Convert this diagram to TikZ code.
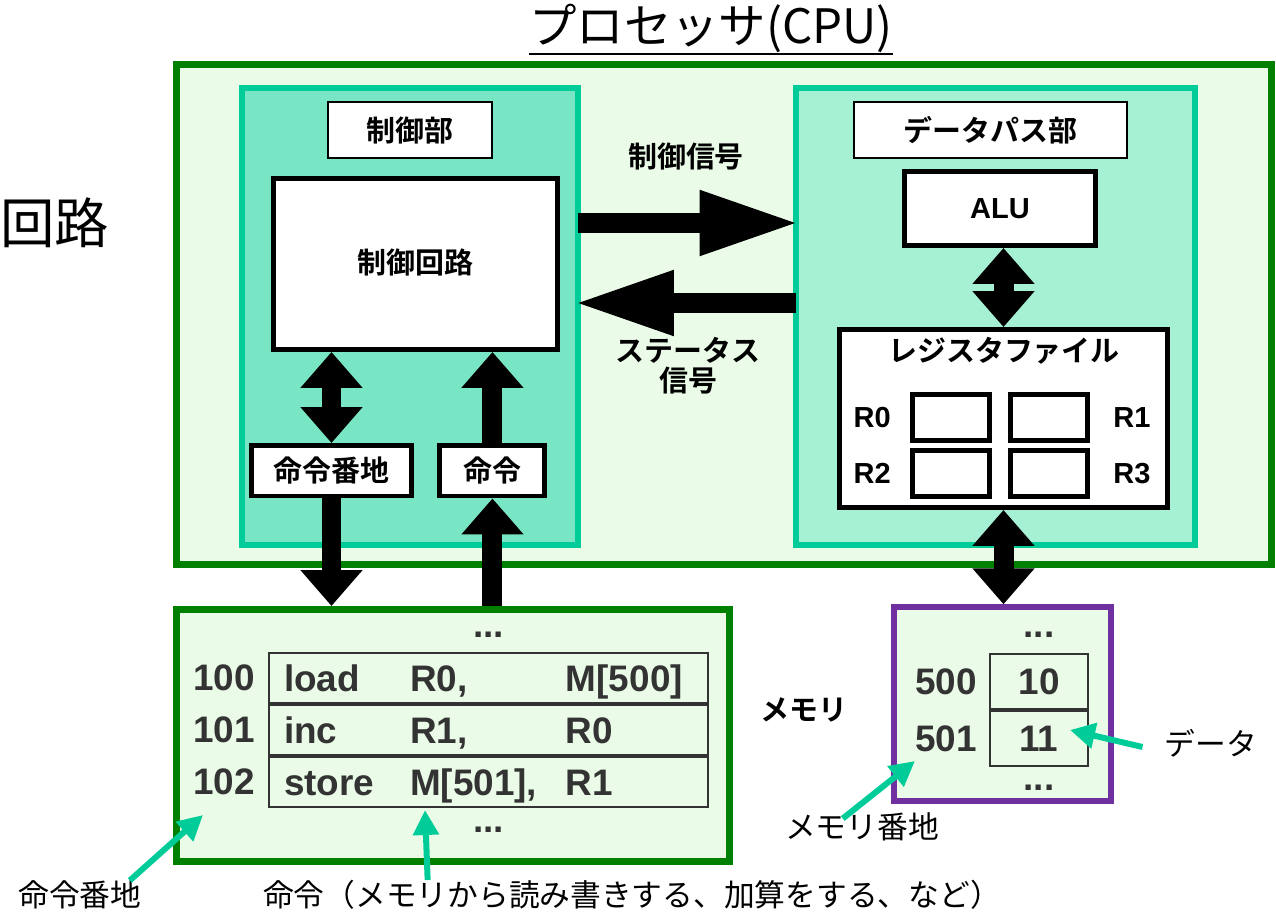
\documentclass[tikz,border=0pt]{standalone}
\usepackage{fontspec}
\setmainfont{Liberation Sans}
\newfontfamily\jp{Noto Sans CJK JP}[BoldFont={Noto Sans CJK JP Bold}]
\usepackage{tikz}
\usetikzlibrary{arrows.meta,positioning}
\usepackage{xcolor}

\definecolor{cpugreen}{RGB}{0,128,0}
\definecolor{cpubg}{RGB}{234,252,232}
\definecolor{ctrlfill}{RGB}{120,229,196}
\definecolor{dpfill}{RGB}{166,240,212}
\definecolor{unitteal}{RGB}{0,204,153}
\definecolor{mempurple}{RGB}{112,48,160}
\definecolor{tablegray}{RGB}{51,51,51}

\newcommand{\jpb}{\jp\bfseries\fontsize{16.5}{17}\selectfont}
\newcommand{\jpn}{\jp\fontsize{17.5}{18}\selectfont}
\newcommand{\latb}{\bfseries\fontsize{16.5}{18}\selectfont}
\newcommand{\codeb}{\bfseries\fontsize{21}{22}\selectfont}
\newcommand{\instr}[3]{\makebox[2.52cm][l]{#1}\makebox[3.12cm][l]{#2}#3}

\begin{document}
\begin{tikzpicture}[x=0.02cm, y=-0.02cm,
    cpubox/.style={draw=cpugreen, fill=cpubg, line width=0.14cm},
    unit/.style={draw=unitteal, line width=0.12cm},
    hdr/.style={draw, fill=white, line width=0.04cm, font=\jpb},
    blk/.style={draw, fill=white, line width=0.1cm},
    regcell/.style={blk, minimum width=1.54cm, minimum height=0.92cm},
    instrrow/.style={draw=tablegray, line width=0.04cm, text=tablegray, font=\codeb, inner xsep=0.3cm, inner ysep=0, text width=8.18cm, align=left, text height=15pt, text depth=0pt, minimum height=1.0cm},
    memcell/.style={draw=tablegray, line width=0.04cm, text=tablegray, font=\codeb, inner sep=0, minimum width=1.96cm, minimum height=1.1cm},
    num/.style={inner sep=0, text=tablegray, font=\codeb},
    note/.style={inner sep=0, font=\jpn},
    link/.style={line width=0.4cm, {Triangle[length=0.72cm,width=1.2cm]}-{Triangle[length=0.72cm,width=1.2cm]}},
    feed/.style={line width=0.4cm, -{Triangle[length=0.72cm,width=1.2cm]}},
    sig/.style={line width=0.4cm, -{Triangle[length=2cm,width=1.2cm]}, shorten <=-0.06cm, shorten >=-0.14cm},
    pointer/.style={draw=unitteal, line width=0.12cm, -{Triangle[length=0.5cm,width=0.5cm]}}]
    \useasboundingbox (0,0) rectangle (1276,913);

    % processor
    \node [cpubox, minimum width=21.92cm, minimum height=10.01cm] (cpu) at (724, 314.75) {};
    \node [inner sep=0, font=\jp\fontsize{27}{28}\selectfont] (title) at (711, 28) {プロセッサ(CPU)};
    \draw[line width=0.04cm] ([yshift=-1pt]title.south west) -- ([yshift=-1pt]title.south east);
    \node [font=\jp\fontsize{31}{32}\selectfont] (kairo) at (55, 223) {回路};

    % control unit
    \node [unit, fill=ctrlfill, minimum width=6.73cm, minimum height=9.15cm] (ctrlunit) at (409.75, 316.75) {};
    \node [hdr, minimum width=3.28cm, minimum height=1.12cm] (ctrlname) at (410, 130) {制御部};
    \node [blk, font=\jpb, minimum width=5.68cm, minimum height=3.42cm] (circ) at (415.5, 264) {\raisebox{0.1cm}{制御回路}};
    \node [blk, font=\jpb, minimum width=3.22cm, minimum height=1.01cm] (addrreg) at (331.5, 470.75) {命令番地};
    \node [blk, font=\jpb, minimum width=2.1cm, minimum height=1.01cm, right=0.46cm of addrreg] (instreg) {命令};

    % datapath
    \node [unit, fill=dpfill, minimum width=7.99cm, minimum height=9.16cm] (dpunit) at (995.25, 316.5) {};
    \node [hdr, minimum width=5.46cm, minimum height=1.12cm] (dpname) at (990.5, 130) {データパス部};
    \node [blk, font=\latb, minimum width=3.82cm, minimum height=1.48cm] (alu) at (1000, 208.5) {ALU};
    \node [blk, minimum width=6.56cm, minimum height=3.56cm] (regfile) at (1003.5, 418.5) {};
    \node [font=\jpb] (rftitle) at (1004, 351) {レジスタファイル};
    \node [regcell] (r0cell) at (951, 417.5) {};
    \node [regcell, right=0.32cm of r0cell] (r1cell) {};
    \node [regcell, below=0.1cm of r0cell] (r2cell) {};
    \node [regcell, below=0.1cm of r1cell] (r3cell) {};
    \node [inner sep=0, font=\latb, left=0.38cm of r0cell] (r0lbl) {R0};
    \node [inner sep=0, font=\latb, right=0.46cm of r1cell] (r1lbl) {R1};
    \node [inner sep=0, font=\latb, left=0.38cm of r2cell] (r2lbl) {R2};
    \node [inner sep=0, font=\latb, right=0.46cm of r3cell] (r3lbl) {R3};

    % signals between the units
    \coordinate (sigy) at (0, 223);
    \coordinate (staty) at (0, 303);
    \draw[sig] (ctrlunit.east |- sigy) -- (dpunit.west |- sigy);
    \draw[sig] (dpunit.west |- staty) -- (ctrlunit.east |- staty);
    \node [font=\jpb] (siglbl) at (686, 156) {制御信号};
    \node [font=\jpb, align=center] (statlbl) at (688, 366) {ステータス\\信号};

    \draw[link] (circ.south -| addrreg.north) -- (addrreg.north);
    \draw[feed] (instreg.north) -- (instreg.north |- circ.south);
    \draw[link] (alu.south -| regfile.north) -- (regfile.north);

    % instruction memory
    \node [cpubox, minimum width=11.08cm, minimum height=5.04cm] (imem) at (453, 735.5) {};
    \node [instrrow] (row1) at (488.5, 678) {\instr{load}{R0,}{M[500]}};
    \node [instrrow, below=0pt of row1] (row2) {\instr{inc}{R1,}{R0}};
    \node [instrrow, below=0pt of row2] (row3) {\instr{store}{M[501],}{R1}};
    \node [num, left=0.26cm of row1] (a100) {100};
    \node [num, left=0.26cm of row2] (a101) {101};
    \node [num, left=0.26cm of row3] (a102) {102};
    \node [num] (idots1) at (488.5, 635) {...};
    \node [num] (idots2) at (488.5, 830) {...};

    \draw[feed] (addrreg.south) -- (addrreg.south |- imem.north);
    \draw[feed] (instreg.south |- imem.north) -- (instreg.south);

    % data memory
    \node [cpubox, draw=mempurple, line width=0.12cm, minimum width=4.34cm, minimum height=3.87cm] (dmem) at (1002.5, 704) {};
    \node [memcell] (m500) at (1039, 681.5) {10};
    \node [memcell, below=0pt of m500] (m501) {11};
    \node [num, left=0.24cm of m500] (d500) {500};
    \node [num, left=0.24cm of m501] (d501) {501};
    \node [num] (ddots1) at (1039, 635) {...};
    \node [num] (ddots2) at (1039, 788) {...};
    \node [font=\jpb] (memlbl) at (804, 710) {メモリ};

    \draw[link] (regfile.south) -- (regfile.south |- dmem.north);

    % notes
    \node [note] (addrnote) at (80, 895) {命令番地};
    \node [note] (instnote) at (632, 895) {命令（メモリから読み書きする、加算をする、など）};
    \node [note] (memaddrnote) at (862, 827) {メモリ番地};
    \node [note] (datanote) at (1211, 743) {データ};
    \coordinate (addrtip) at (203, 815);
    \coordinate (insttip) at (425, 810);
    \coordinate (memaddrtip) at (915, 761);
    \coordinate (datatip) at (1070, 730);
    \draw[pointer] ([xshift=-0.24cm]addrnote.north east) -- (addrtip);
    \draw[pointer] ([xshift=3.3cm]instnote.north west) -- (insttip);
    \draw[pointer] ([xshift=1.16cm,yshift=-0.12cm]memaddrnote.north west) -- (memaddrtip);
    \draw[pointer] ([xshift=-0.44cm,yshift=-0.08cm]datanote.west) -- (datatip);
\end{tikzpicture}
\end{document}
